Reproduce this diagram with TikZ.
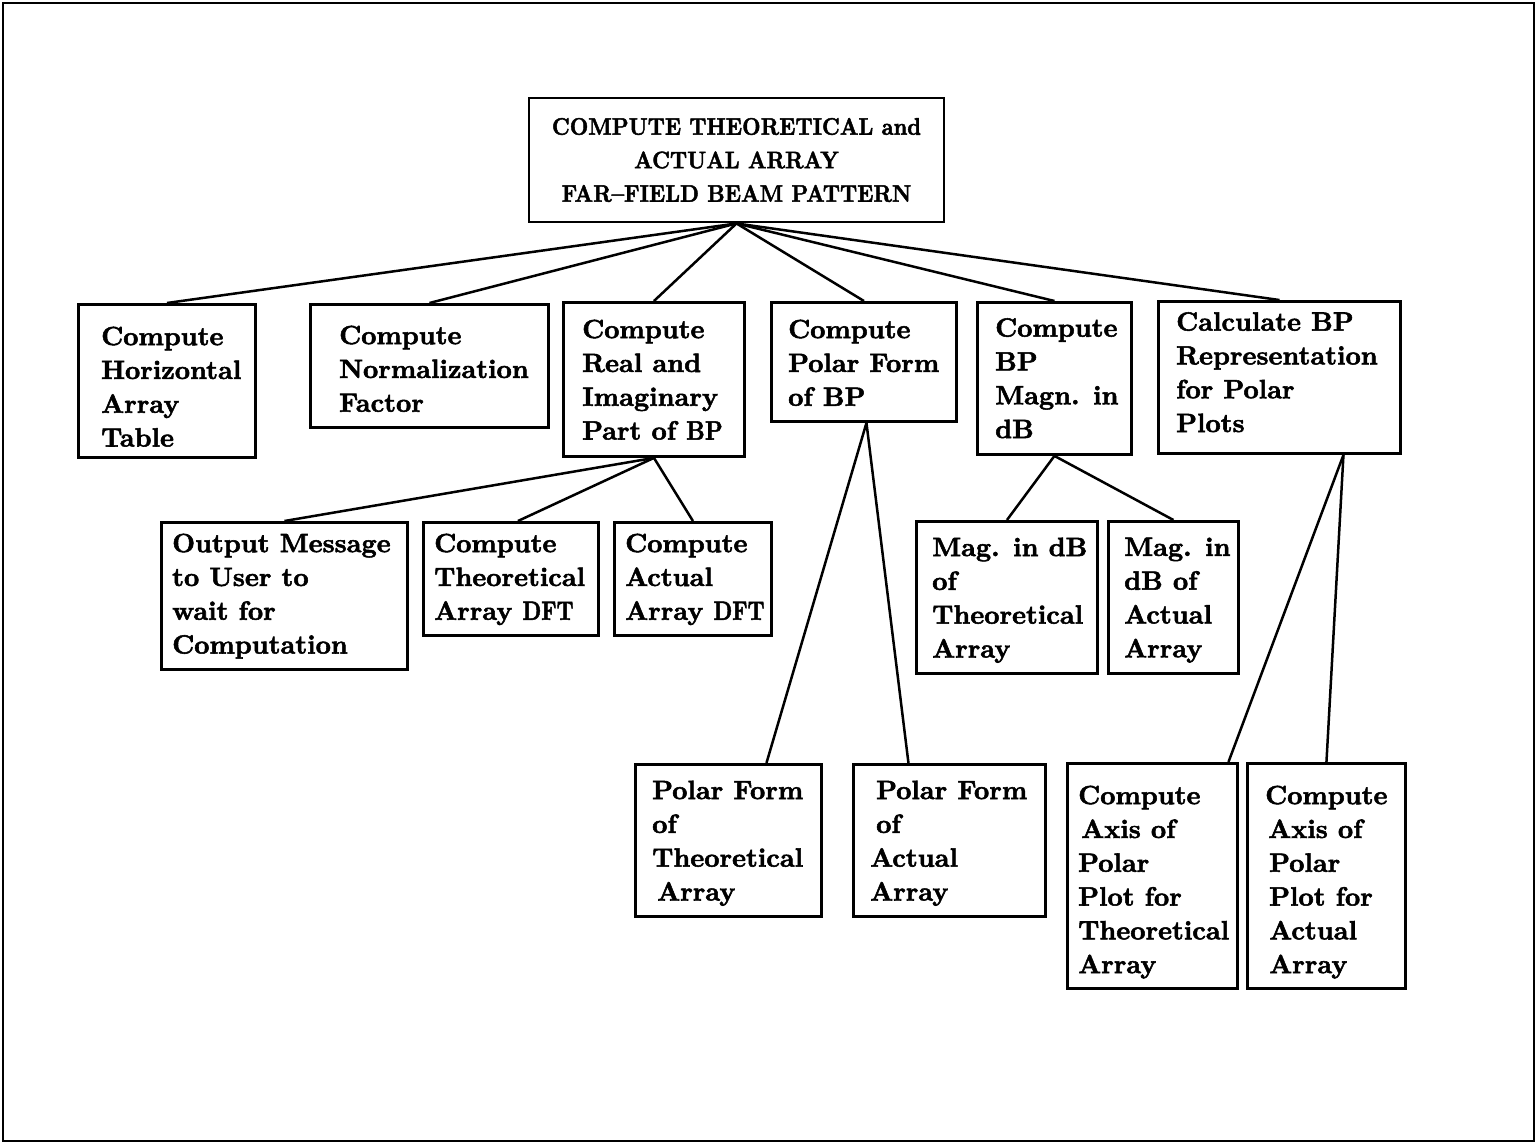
\documentclass[tikz,border=0pt]{standalone}
\usepackage{fontspec}
\usepackage{graphicx}
% heavy slab-like roman: Latin Modern bold extended, thickened
\newfontfamily\heavy{lmroman10-bold}[Extension=.otf, FakeBold=2]
\newcommand\narrow[2][0.86]{\scalebox{#1}[1]{#2}}
\newcommand\capline[1]{\scalebox{0.895}[1]{#1}}
\begin{document}
\begin{tikzpicture}[x=1pt,y=-1pt,
  box/.style={draw, line width=2.9pt, rectangle, anchor=north west, inner sep=0pt},
  link/.style={line width=2.5pt},
  lbl/.style={anchor=north west, inner sep=0pt, align=left,
    font=\heavy\fontsize{26.5}{33.8}\selectfont},
  rootlbl/.style={font=\heavy\fontsize{24}{33.5}\selectfont, align=center}]
\useasboundingbox (0,0) rectangle (1539,1144);
% outer frame
\draw[line width=2.9pt] (3,3) rectangle (1534,1141);

% box: name, left, top, right, bottom
\newcommand\pbox[5]{\node[box, minimum width={#4-#2}, minimum height={#5-#3}] (#1) at (#2,#3) {};}

% root
\node[box, anchor=center, minimum width=415, minimum height=124, rootlbl] (R) at (736.5,160)
  {\capline{COMPUTE THEORETICAL and}\\\capline{ACTUAL ARRAY}\\\capline{FAR\textendash FIELD BEAM PATTERN}};

% second level
\pbox{A}{77}{303}{254}{456}
\pbox{B}{309}{303}{547}{426}
\pbox{C}{562}{301}{743}{455}
\pbox{D}{770}{301}{955}{420}
\pbox{E}{976}{301}{1130}{453}
\pbox{F}{1157}{300}{1399}{452}
\node[lbl] (At) at (101,326.5) {Compute\\Horizontal\\Array\\Table};
\node[lbl] (Bt) at (339,325.5) {Compute\\Normalization\\Factor};
\node[lbl] (Ct) at (582,319.5) {Compute\\Real and\\Imaginary\\Part of \narrow{BP}};
\node[lbl] (Dt) at (788,319.5) {Compute\\Polar Form\\of BP};
\node[lbl] (Et) at (995,318) {Compute\\BP\\Magn. in\\dB};
\node[lbl] (Ft) at (1176,312) {Calculate BP\\Representation\\for Polar\\Plots};

% third level
\pbox{G}{160}{521}{406}{668}
\pbox{H}{422}{521}{597}{634}
\pbox{I}{613}{521}{770}{634}
\pbox{J}{915}{520}{1096}{672}
\pbox{K}{1107}{520}{1237}{672}
\node[lbl] (Gt) at (172,533.5) {Output Message\\to User to\\wait for\\Computation};
\node[lbl] (Ht) at (434,533.5) {Compute\\Theoretical\\Array \narrow[0.8]{DFT}};
\node[lbl] (It) at (625,533.5) {Compute\\Actual\\Array \narrow[0.8]{DFT}};
\node[lbl] (Jt) at (932,537.5) {Mag. in dB\\of\\Theoretical\\Array};
\node[lbl] (Kt) at (1124,537.5) {Mag. in\\dB of\\Actual\\Array};

% fourth level
\pbox{L}{634}{763}{820}{915}
\pbox{M}{852}{763}{1044}{915}
\pbox{N}{1066}{762}{1236}{987}
\pbox{O}{1246}{762}{1404}{987}
\node[lbl] (Lt) at (652,780.5) {Polar Form\\of\\Theoretical\\\hspace*{5pt}Array};
\node[lbl] (Mt) at (870,780.5) {\hspace*{6pt}Polar Form\\\hspace*{6pt}of\\Actual\\Array};
\node[lbl] (Nt) at (1078,785.5) {Compute\\\hspace*{3pt}Axis of\\Polar\\Plot for\\Theoretical\\Array};
\node[lbl] (Ot) at (1265,785.5) {Compute\\\hspace*{3pt}Axis of\\\hspace*{4pt}Polar\\\hspace*{4pt}Plot for\\\hspace*{4pt}Actual\\\hspace*{4pt}Array};

% connectors
\foreach \c in {A,B,C,D,E,F} \draw[link] (R.south) -- (\c.north);
\draw[link] (C.south) -- (G.north);
\draw[link] (C.south) -- ([xshift=7pt]H.north);
\draw[link] (C.south) -- (I.north);
\draw[link] ([xshift=2.5pt]D.south) -- ([xshift=38pt]L.north);
\draw[link] ([xshift=2.5pt]D.south) -- ([xshift=-41pt]M.north);
\draw[link] (E.south) -- (J.north);
\draw[link] (E.south) -- (K.north);
\draw[link] ([xshift=64pt]F.south) -- ([xshift=76pt]N.north);
\draw[link] ([xshift=64pt]F.south) -- (O.north);
\end{tikzpicture}
\end{document}
